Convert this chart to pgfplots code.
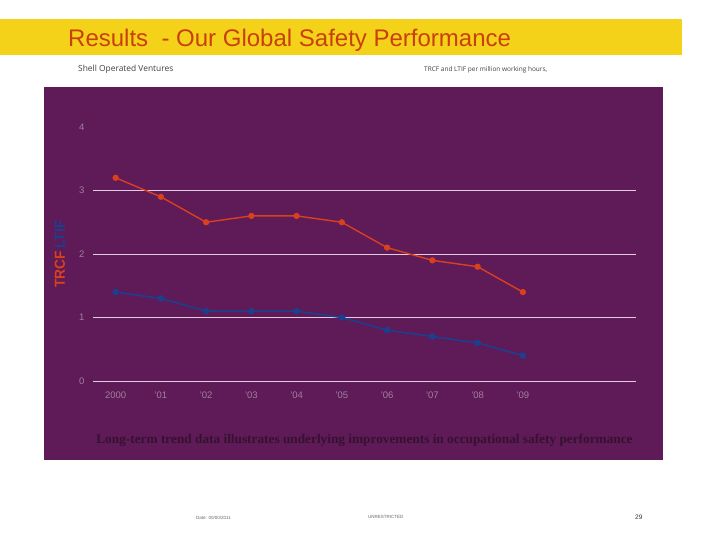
\documentclass[border=0pt]{standalone}
\usepackage{pgfplots}
\pgfplotsset{compat=1.18}
\usepackage{fontspec}
\setmainfont{Liberation Sans}
\newfontfamily\thinfont{Open Sans}
\newfontfamily\seriffont{Liberation Serif}
\definecolor{titlebarc}{HTML}{F5D21A}
\definecolor{titlec}{HTML}{C9400C}
\definecolor{purp}{HTML}{5F1A58}
\definecolor{gridc}{HTML}{E2CCE0}
\definecolor{tickc}{HTML}{A0809C}
\definecolor{redl}{HTML}{D8401E}
\definecolor{bluel}{HTML}{1C3F8E}
\definecolor{capc}{HTML}{35122F}
\begin{document}
\begin{tikzpicture}[x=1pt,y=1pt]
\path[use as bounding box, fill=white] (0,0) rectangle (720,540);
% title bar
\fill[titlebarc] (0,540-55) rectangle (682,540-19);
\node[anchor=west, text=titlec, font=\fontsize{24}{26}\selectfont, inner sep=0pt] at (68,540-40) {Results\ \ - Our Global Safety Performance};
\node[anchor=west, text=black!75, font=\thinfont\fontsize{8.4}{9}\selectfont, inner sep=0pt] at (78,540-69) {Shell Operated Ventures};
\node[anchor=west, text=black!75, font=\thinfont\fontsize{6.5}{7}\selectfont, inner sep=0pt] at (424,540-70) {TRCF and LTIF per million working hours,};
% purple panel
\fill[purp] (44,540-460) rectangle (663,540-87);
\begin{axis}[
  at={(93pt,159pt)}, anchor=south west,
  scale only axis, width=543pt, height=254pt,
  xmin=-0.5, xmax=11.5, ymin=0, ymax=4,
  axis line style={draw=none},
  xtick={0,...,9},
  xticklabels={2000,'01,'02,'03,'04,'05,'06,'07,'08,'09},
  ytick={0,1,2,3,4},
  extra y ticks={0,1,2,3},
  extra y tick labels={},
  extra y tick style={grid=major, major grid style={draw=gridc, line width=0.9pt}},
  major tick length=0pt,
  tick style={draw=none},
  ticklabel style={text=tickc, font=\fontsize{9.5}{11}\selectfont},
  /pgf/number format/assume math mode=true,
  yticklabel style={xshift=-5pt},
  xticklabel style={yshift=-7pt},
  clip=false,
]
\addplot[color=redl, line width=1.4pt, mark=*, mark size=2.4pt, mark options={fill=redl, draw=redl}] coordinates {
(0,3.2) (1,2.9) (2,2.5) (3,2.6) (4,2.6) (5,2.5) (6,2.1) (7,1.9) (8,1.8) (9,1.4)};
\addplot[color=bluel, line width=1.6pt, mark=*, mark size=2.4pt, mark options={fill=bluel, draw=bluel}] coordinates {
(0,1.4) (1,1.3) (2,1.1) (3,1.1) (4,1.1) (5,1.0) (6,0.8) (7,0.7) (8,0.6) (9,0.4)};
\end{axis}
% y label
\node[rotate=90, font=\bfseries\fontsize{14.5}{16}\selectfont, inner sep=0pt, xscale=0.95] at (60,540-254) {\textcolor{redl}{TRCF}\,\textcolor{bluel}{LTIF}};
% caption
\node[text=capc, font=\seriffont\bfseries\fontsize{13.3}{15}\selectfont, inner sep=0pt] at (364.5,540-440) {Long-term trend data illustrates underlying improvements in occupational safety performance};
% footer
\node[anchor=west, text=black!60, font=\fontsize{4.5}{5}\selectfont, inner sep=0pt] at (196,540-518) {Date: 00/00/2011};
\node[anchor=west, text=black!60, font=\fontsize{4.5}{5}\selectfont, inner sep=0pt] at (368,540-517) {UNRESTRICTED};
\node[anchor=west, text=black!80, font=\fontsize{6.5}{7}\selectfont, inner sep=0pt] at (635,540-517) {29};
\end{tikzpicture}
\end{document}
